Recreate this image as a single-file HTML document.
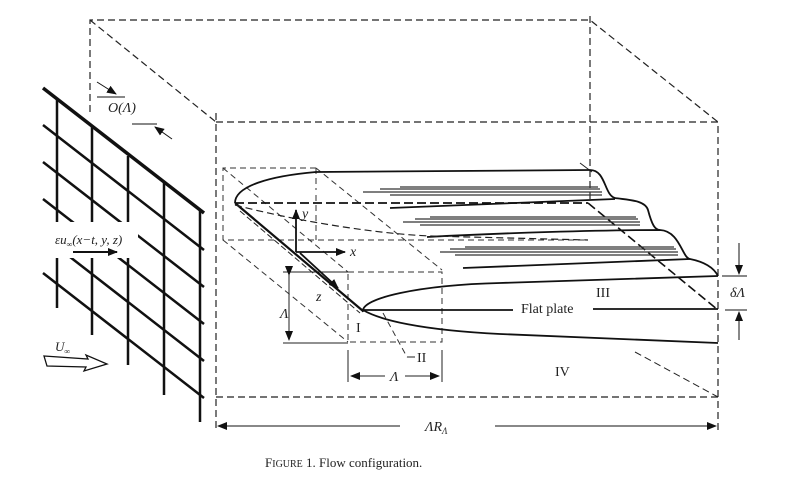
<!DOCTYPE html>
<html><head><meta charset="utf-8"><style>
html,body{margin:0;padding:0;background:#fff;}
svg{display:block;}
text{font-family:"Liberation Serif",serif;fill:#222;}
</style></head><body>
<svg width="800" height="481" viewBox="0 0 800 481" xmlns="http://www.w3.org/2000/svg">
<defs>
<marker id="ah" markerWidth="10" markerHeight="8" refX="9" refY="4" orient="auto" markerUnits="userSpaceOnUse">
<path d="M0,0 L10,4 L0,8 z" fill="#111"/></marker>
</defs>
<g fill="none" stroke="#222" stroke-width="1.2" stroke-dasharray="7,4">
<path d="M90,112 V20 H590 L718,122"/>
<path d="M90,20 L216,122"/>
<path d="M590,16 V203"/>
<path d="M216,113 V430"/>
<path d="M216,122 H718 V430"/>
<path d="M216,397 H718"/>
<path d="M635,352 L718,397" stroke-width="1"/>
</g>
<path d="M580,163 L592,172" stroke="#222" stroke-width="1"/>
<g fill="none" stroke="#333" stroke-width="1" stroke-dasharray="6,4">
<path d="M316,168 H223 V240 H588"/>
<path d="M223,168 L348,272"/>
<path d="M316,168 L442,270"/>
<path d="M223,240 L348,342"/>
<path d="M348,272 H442 V342 H348 Z"/>
<path d="M316,168 V190 M316,195 V240"/>
<path d="M383,313 L407,357"/>
</g>
<path d="M407,357 H415" stroke="#222" stroke-width="1"/>
<g stroke="#222" stroke-width="1" fill="none">
<path d="M283,272 H348 M283,343 H348 M348,350 V382 M442,350 V382"/>
<path d="M289,275 V340" marker-start="url(#ah)" marker-end="url(#ah)"/>
<path d="M385,376 L351,376" marker-end="url(#ah)"/>
<path d="M405,376 L439,376" marker-end="url(#ah)"/>
</g>
<g fill="none" stroke="#111" stroke-width="1.8">
<path d="M235,203 C235,186 270,176 316,172 L590,170 C606,170 604,195 615,198 C628,200 645,200 648,210 C652,225 655,230 660,230"/>
<path d="M390,208 L615,199"/>
<path d="M427,237 C500,233 600,230 660,230 C680,231 682,258 690,259 C705,262 714,268 718,276"/>
<path d="M463,268 L690,259"/>
<path d="M363,312 C360,298 420,285 500,283 L718,276"/>
<path d="M363,310 H513 M593,309 H718"/>
<path d="M363,310 C380,320 420,330 500,334 L718,343"/>
<path d="M235,203 L363,311" stroke-width="2.2"/>
</g>
<path d="M240,211 L360,313" stroke="#222" stroke-width="1" stroke-dasharray="6,3" fill="none"/>
<path d="M235,205 C300,222 380,234 430,236 L588,240" stroke="#222" stroke-width="1.2" stroke-dasharray="7,4" fill="none"/>
<path d="M235,203 H588" stroke="#111" stroke-width="1.8" stroke-dasharray="9,4" fill="none"/>
<path d="M588,203 L718,310" stroke="#111" stroke-width="1.6" stroke-dasharray="9,4" fill="none"/>
<g stroke="#333" stroke-width="1.3">
<path d="M363,192 H602 M380,189 H600 M390,195 H602 M400,187 H598"/>
<path d="M403,222 H640 M415,219 H638 M420,225 H640 M430,217 H636"/>
<path d="M440,252 H678 M450,249 H676 M455,255 H678 M465,247 H674"/>
</g>
<g stroke="#111" stroke-width="1.8" fill="none">
<path d="M296,252 V210" marker-end="url(#ah)"/>
<path d="M296,252 H345" marker-end="url(#ah)"/>
<path d="M300,253 L338,288" marker-end="url(#ah)"/>
</g>
<text x="302" y="218" font-size="14" font-style="italic">y</text>
<text x="350" y="256" font-size="14" font-style="italic">x</text>
<text x="316" y="301" font-size="14" font-style="italic">z</text>
<text x="280" y="318" font-size="14" font-style="italic">Λ</text>
<text x="390" y="381" font-size="14" font-style="italic">Λ</text>
<text x="356" y="332" font-size="14">I</text>
<text x="417" y="362" font-size="14">II</text>
<text x="596" y="297" font-size="14">III</text>
<text x="555" y="376" font-size="14">IV</text>
<text x="521" y="313" font-size="14">Flat plate</text>
<text x="730" y="297" font-size="14" font-style="italic">δΛ</text>
<g stroke="#111" stroke-width="1" fill="none">
<path d="M722,276 H747 M725,310 H747"/>
<path d="M739,243 V274" marker-end="url(#ah)"/>
<path d="M739,340 V312" marker-end="url(#ah)"/>
<path d="M400,426 L218,426" marker-end="url(#ah)"/>
<path d="M495,426 L716,426" marker-end="url(#ah)"/>
</g>
<text x="425" y="431" font-size="14" font-style="italic">ΛR<tspan font-size="9" dy="3">Λ</tspan></text>
<g stroke="#111" stroke-width="2.5" fill="none">
<path d="M43,88 L204,213" stroke-width="3.5"/>
<path d="M43,125 L204,250 M43,162 L204,287 M43,199 L204,324 M43,236 L204,361 M43,273 L204,398"/>
<path d="M57,99 V308 M92,126 V335 M128,156 V365 M164,182 V395 M200,210 V422"/>
</g>
<rect x="38" y="222" width="100" height="36" fill="#fff"/>
<text x="55" y="244" font-size="13" font-style="italic">εu<tspan font-size="8" dy="3">∞</tspan><tspan dy="-3">(x−t, y, z)</tspan></text>
<path d="M73,252 H117" stroke="#111" stroke-width="2" marker-end="url(#ah)"/>
<text x="55" y="351" font-size="13" font-style="italic">U<tspan font-size="8" dy="3">∞</tspan></text>
<path d="M44,356 L88,359 L86,355 L107,364 L84,371 L86,367 L47,366 Z" fill="#fff" stroke="#111" stroke-width="1.3"/>
<g stroke="#111" stroke-width="1" fill="none">
<path d="M97,82 L116,94" marker-end="url(#ah)"/>
<path d="M97,97 H125 M132,124 H157"/>
<path d="M172,139 L155,127" marker-end="url(#ah)"/>
</g>
<text x="108" y="112" font-size="14" font-style="italic">O(Λ)</text>
<text x="265" y="467" font-size="13">F<tspan font-size="10">IGURE</tspan> 1. Flow configuration.</text>
</svg>
</body></html>
